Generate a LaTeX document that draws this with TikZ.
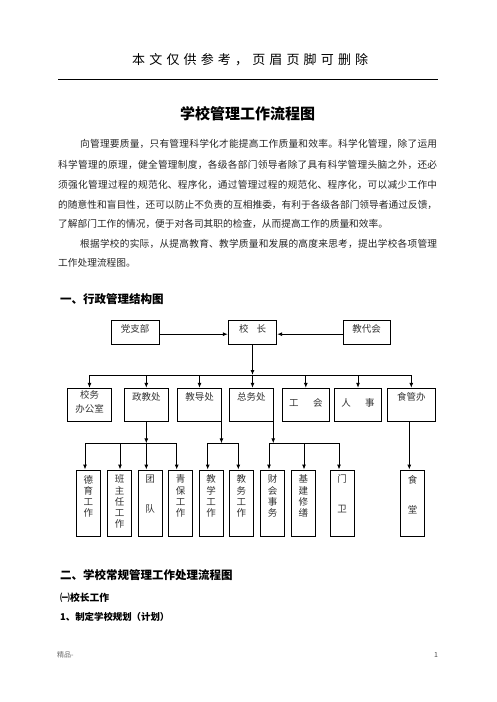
\documentclass[tikz,border=0pt]{standalone}
\usepackage{fontspec}
\setmainfont{Noto Sans CJK SC}[Kerning=Off]
\usetikzlibrary{arrows.meta}
\newcommand\bx[3]{\vbox to #1{\vskip #2\relax\halign{\hfil##\hfil\cr#3\crcr}\vfil}}
\def\jline#1#2{\hbox to #1{\jfirst#2\relax}}
\def\jfirst#1{#1\jrest}
\def\jrest#1{\ifx#1\relax\else\hskip0pt plus 1fil #1\expandafter\jrest\fi}
\begin{document}
\begin{tikzpicture}[x=1pt,y=-1pt,
  box/.style={draw, line width=0.9pt, inner sep=0pt, font=\fontsize{9.5}{11.2}\selectfont, text=black!80},
  hbx/.style={box, minimum height=33.4pt},
  vbx/.style={box, minimum width=24pt, minimum height=66pt},
  tbx/.style={box, minimum height=24.3pt},
  arr/.style={line width=0.9pt, -{Latex[length=5pt,width=4pt]}},
  ln/.style={line width=0.9pt},
  para/.style={anchor=west, inner sep=0pt, font=\fontsize{9.7}{11}\selectfont, text=black!85},
  head/.style={anchor=west, inner sep=0pt, font=\bfseries\fontsize{11.5}{13}\selectfont}
]
\useasboundingbox (0,0) rectangle (496,702);
\fill[white] (0,0) rectangle (496,702);

% header
\node[anchor=west, inner sep=0pt, font=\fontsize{13}{15}\selectfont] (hdr) at (132,60) {\jline{236pt}{本文仅供参考，页眉页脚可删除}};
\coordinate (hl) at (58,79.3);
\coordinate (hr) at (438,79.3);
\draw[line width=1.2pt] (hl) -- (hr);

% title
\node[inner sep=0pt, font=\bfseries\fontsize{15}{17}\selectfont] (title) at (247.5,114) {学校管理工作流程图};

% paragraph
\node[para] (p1) at (80,144) {\jline{357pt}{向管理要质量，只有管理科学化才能提高工作质量和效率。科学化管理，除了运用}};
\node[para] (p2) at (58,164.5) {\jline{379pt}{科学管理的原理，健全管理制度，各级各部门领导者除了具有科学管理头脑之外，还必}};
\node[para] (p3) at (58,185) {\jline{379pt}{须强化管理过程的规范化、程序化，通过管理过程的规范化、程序化，可以减少工作中}};
\node[para] (p4) at (58,204.5) {\jline{379pt}{的随意性和盲目性，还可以防止不负责的互相推委，有利于各级各部门领导者通过反馈，}};
\node[para] (p5) at (58,223.5) {\jline{324pt}{了解部门工作的情况，便于对各司其职的检查，从而提高工作的质量和效率。}};
\node[para] (p6) at (80,243.5) {\jline{357pt}{根据学校的实际，从提高教育、教学质量和发展的高度来思考，提出学校各项管理}};
\node[para] (p7) at (58,262.5) {工作处理流程图。};

% section 1
\node[head] (s1) at (60,299) {一、行政管理结构图};

% top row
\node[tbx, minimum width=48.3pt] (dzb) at (135.2,332.2) {\bx{24.3pt}{4pt}{党支部}};
\node[tbx, minimum width=48.4pt] (xz) at (252.5,332.2) {\bx{24.3pt}{4pt}{校\hspace{8pt}长}};
\node[tbx, minimum width=46.7pt] (jdh) at (366.7,332.2) {\bx{24.3pt}{4pt}{教代会}};
\draw[arr] ([yshift=-2pt]dzb.east) -- ([yshift=-2pt]xz.west);
\draw[arr] ([yshift=-2pt]jdh.west) -- ([yshift=-2pt]xz.east);

% second row
\node[hbx, minimum width=44.4pt] (xwb) at (89.5,405) {\bx{33.4pt}{2.4pt}{校务\cr\noalign{\vskip2.8pt}办公室}};
\node[hbx, minimum width=44pt] (zjc) at (146.3,405) {\bx{33.4pt}{4pt}{政教处}};
\node[hbx, minimum width=44.4pt] (jdc) at (199.5,405) {\bx{33.4pt}{4pt}{教导处}};
\node[hbx, minimum width=44pt] (zwc) at (251.3,405) {\bx{33.4pt}{4pt}{总务处}};
\node[hbx, minimum width=47pt] (gh) at (305.8,405) {\bx{33.4pt}{10.4pt}{工\hspace{14.5pt}会}};
\node[hbx, minimum width=47.4pt] (rs) at (358,405) {\bx{33.4pt}{10.4pt}{人\hspace{14.5pt}事}};
\node[hbx, minimum width=47.3pt] (sgb) at (411.3,405) {\bx{33.4pt}{4pt}{食管办}};

\coordinate (busL) at (89.5,375);
\coordinate (busR) at (411.3,375);
\draw[ln] (busL) -- (busR);
\draw[arr] (xz.south) -- (xz.south |- busL);
\draw[arr] (xz.south |- busL) -- (xz.south |- zwc.north);
\foreach \n in {xwb,zjc,jdc,gh,rs,sgb}
  \draw[arr] (\n.north |- busL) -- (\n.north);

% third row
\node[vbx] (dy) at (88.4,503) {\bx{66pt}{5pt}{德\cr 育\cr 工\cr 作}};
\node[vbx] (bzr) at (119.5,503) {\bx{66pt}{5pt}{班\cr 主\cr 任\cr 工\cr 作}};
\node[vbx] (td) at (150,503) {\bx{66pt}{5pt}{团\cr\noalign{\vskip18.8pt}队}};
\node[vbx] (qb) at (180.5,503) {\bx{66pt}{5pt}{青\cr 保\cr 工\cr 作}};
\node[vbx] (jx) at (211,503) {\bx{66pt}{5pt}{教\cr 学\cr 工\cr 作}};
\node[vbx] (jw) at (241.3,503) {\bx{66pt}{5pt}{教\cr 务\cr 工\cr 作}};
\node[vbx] (ck) at (272.5,503) {\bx{66pt}{5pt}{财\cr 会\cr 事\cr 务}};
\node[vbx] (jj) at (303.3,503) {\bx{66pt}{5pt}{基\cr 建\cr 修\cr 缮}};
\node[vbx] (mw) at (342.2,503) {\bx{66pt}{5pt}{门\cr\noalign{\vskip18.8pt}卫}};
\node[vbx] (st) at (412.5,503) {\bx{66pt}{5pt}{食\cr\noalign{\vskip18.8pt}堂}};

% sub-bus A (政教处)
\coordinate (a1) at (85,443.3);
\coordinate (a2) at (120,443.3);
\coordinate (a3) at (146.3,443.3);
\coordinate (a4) at (176.7,443.3);
\draw[ln] (a1) -- (a4);
\draw[arr] (zjc.south) -- (a3);
\draw[arr] (a1) -- (a1 |- dy.north);
\draw[arr] (a2) -- (a2 |- bzr.north);
\draw[arr] (a3) -- (a3 |- td.north);
\draw[arr] (a4) -- (a4 |- qb.north);

% sub-bus B (教导处)
\coordinate (fb) at ([xshift=-0.7pt]jdc.south east);
\coordinate (b1) at (207.7,443.3);
\coordinate (b2) at (238.3,443.3);
\draw[ln] (b1) -- (b2);
\draw[arr] (fb) -- (fb |- b1);
\draw[arr] (b1) -- (b1 |- jx.north);
\draw[arr] (b2) -- (b2 |- jw.north);

% sub-bus C (总务处)
\coordinate (fc) at ([xshift=-0.5pt]zwc.south east);
\coordinate (c1) at (269,443.3);
\coordinate (c2) at (304,443.3);
\coordinate (c3) at (339,443.3);
\draw[ln] (c1) -- (c3);
\draw[arr] (fc) -- (fc |- c1);
\draw[arr] (c1) -- (c1 |- ck.north);
\draw[arr] (c2) -- (c2 |- jj.north);
\draw[arr] (c3) -- (c3 |- mw.north);

% 食管办 -> 食堂
\draw[arr] ([xshift=-2pt]sgb.south) -- ([xshift=-2pt]sgb.south |- st.north);

% section 2
\node[head] (s2) at (60,575) {二、学校常规管理工作处理流程图};
\node[anchor=west, inner sep=0pt, font=\bfseries\fontsize{9.8}{11}\selectfont] (s21) at (60,597.7) {㈠校长工作};
\node[anchor=west, inner sep=0pt, font=\bfseries\fontsize{9.4}{11}\selectfont] (s22) at (60,616.7) {1、制定学校规划（计划）};

% footer
\node[anchor=west, inner sep=0pt, font=\fontsize{7}{8}\selectfont, text=black!60] (ft) at (57,655) {精品-};
\node[inner sep=0pt, font=\fontsize{7}{8}\selectfont, text=black!70] (pg) at (436,655) {1};
\end{tikzpicture}
\end{document}
